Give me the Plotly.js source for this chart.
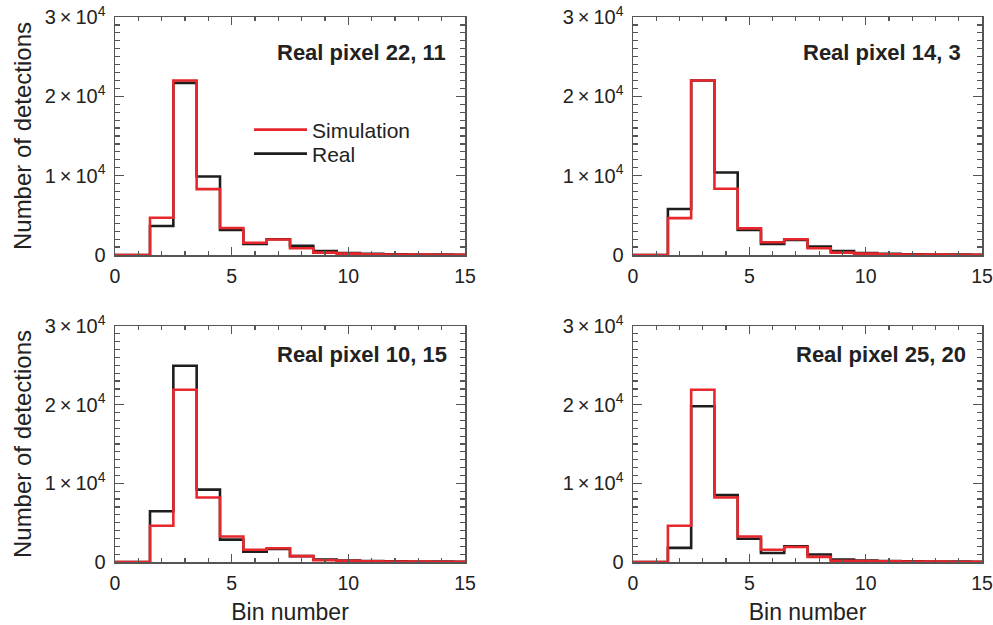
<!DOCTYPE html>
<html>
<head>
<meta charset="utf-8">
<script src="https://cdn.plot.ly/plotly-3.0.1.min.js"></script>
<style>html,body{margin:0;padding:0;background:#fff}#chart{width:993px;height:625px}</style>
</head>
<body>
<div id="chart"></div>
<script>
// Data (bin centres and counts)
const bins = [0,1,2,3,4,5,6,7,8,9,10,11,12,13,14,15];
const sim1  = [0,0,4700,22000,8300,3400,1550,1950,850,300,170,100,70,50,40,30];
const real1 = [0,0,3650,21700,9900,3150,1400,1980,1150,500,250,150,100,70,50,40];
const sim2  = [0,0,4650,22000,8350,3350,1600,1980,850,300,170,100,70,50,40,30];
const real2 = [0,0,5800,22000,10400,3150,1400,1900,1050,500,250,150,100,70,50,40];
const sim3  = [0,0,4600,21900,8200,3250,1550,1750,750,220,150,100,70,50,40,30];
const real3 = [0,0,6450,24950,9200,2850,1300,1650,750,300,200,130,90,60,50,40];
const sim4  = [0,0,4600,21900,8200,3250,1550,1900,650,150,120,90,70,50,40,30];
const real4 = [0,0,1800,19800,8500,2950,1150,2000,950,300,200,130,90,60,50,40];
const panelTitles = ["Real pixel 22, 11","Real pixel 14, 3","Real pixel 10, 15","Real pixel 25, 20"];
const yTickVals = [0,10000,20000,30000];
const yTickText = ["0","1\u2009\u00d7\u200910<sup>4</sup>","2\u2009\u00d7\u200910<sup>4</sup>","3\u2009\u00d7\u200910<sup>4</sup>"];
const xTickVals = [0,5,10,15];
const seriesNames = ["Simulation","Real"];

const RED = '#e8272c', BLACK = '#1e1e1e', AX = '#555555', TXT = '#222222';
const FONT = 'Liberation Sans, Arial, Helvetica, sans-serif';

const sims = [sim1,sim2,sim3,sim4];
const reals = [real1,real2,real3,real4];
const traces = [];
for (let i = 0; i < 4; i++) {
  const sfx = i === 0 ? '' : String(i+1);
  traces.push({x: bins, y: reals[i], type:'scatter', mode:'lines', line:{shape:'hvh', color:BLACK, width:2.6},
    name: seriesNames[1], showlegend: i===0, legend:'legend2', xaxis:'x'+sfx, yaxis:'y'+sfx, hoverinfo:'x+y'});
  traces.push({x: bins, y: sims[i], type:'scatter', mode:'lines', line:{shape:'hvh', color:RED, width:2.6},
    name: seriesNames[0], showlegend: i===0, legend:'legend', xaxis:'x'+sfx, yaxis:'y'+sfx, hoverinfo:'x+y'});
}

const W = 993, H = 625;
const xd = [[115/W, 465/W],[633/W, 982/W]];
const yd = [[1-255/H, 1-17/H],[1-562/H, 1-326/H]];

function xax(col,row){
  return {domain: xd[col], anchor: 'y'+(col+row*2===0?'':(col+row*2+1)), range:[0,15],
    tickmode:'array', tickvals: xTickVals, ticks:'inside', ticklen:8, tickwidth:1.3, tickcolor:AX,
    showline:true, linecolor:AX, linewidth:1.5, mirror:'allticks', showgrid:false, zeroline:false,
    minor:{tickmode:'linear', dtick:1, tick0:0, ticks:'inside', ticklen:4, tickwidth:1.2, tickcolor:AX, showgrid:false},
    tickfont:{family:FONT, size:19.5, color:TXT}, ticklabelstandoff:3, ticklabeloverflow:'allow',
    title: row===1 ? {text:'Bin number', font:{family:FONT, size:23, color:TXT}, standoff:14} : {text:''}};
}
function yax(col,row){
  return {domain: yd[row], anchor: 'x'+(col+row*2===0?'':(col+row*2+1)), range:[0,30000],
    tickmode:'array', tickvals: yTickVals, ticktext: yTickText, ticks:'inside', ticklen:9, tickwidth:1.3, tickcolor:AX,
    showline:true, linecolor:AX, linewidth:1.5, mirror:'allticks', showgrid:false, zeroline:false,
    minor:{tickmode:'linear', dtick:1000, tick0:0, ticks:'inside', ticklen:5, tickwidth:1.2, tickcolor:AX, showgrid:false},
    tickfont:{family:FONT, size:20, color:TXT}, ticklabelstandoff:4, ticklabeloverflow:'allow',
    title: col===0 ? {text:'Number of detections', font:{family:FONT, size:24, color:TXT}, standoff:6} : {text:''}};
}

const legendBase = {xanchor:'left', yanchor:'middle', bgcolor:'rgba(0,0,0,0)',
  font:{family:FONT, size:21, color:TXT}, itemwidth:53, borderwidth:0};

const layout = {
  width: W, height: H, margin:{l:0,r:0,t:0,b:0}, paper_bgcolor:'#fff', plot_bgcolor:'#fff',
  font:{family:FONT, color:TXT},
  xaxis: xax(0,0), yaxis: yax(0,0),
  xaxis2: xax(1,0), yaxis2: yax(1,0),
  xaxis3: xax(0,1), yaxis3: yax(0,1),
  xaxis4: xax(1,1), yaxis4: yax(1,1),
  showlegend: true,
  legend: Object.assign({x:249/W, y:1-130/H}, legendBase),
  legend2: Object.assign({x:249/W, y:1-154/H}, legendBase),
  annotations: [
    {text:'<b>'+panelTitles[0]+'</b>', xref:'paper', yref:'paper', x:448/W, y:1-53/H, xanchor:'right', yanchor:'middle', showarrow:false, font:{family:FONT,size:22,color:TXT}},
    {text:'<b>'+panelTitles[1]+'</b>', xref:'paper', yref:'paper', x:963/W, y:1-53/H, xanchor:'right', yanchor:'middle', showarrow:false, font:{family:FONT,size:22,color:TXT}},
    {text:'<b>'+panelTitles[2]+'</b>', xref:'paper', yref:'paper', x:449/W, y:1-355/H, xanchor:'right', yanchor:'middle', showarrow:false, font:{family:FONT,size:22,color:TXT}},
    {text:'<b>'+panelTitles[3]+'</b>', xref:'paper', yref:'paper', x:968/W, y:1-355/H, xanchor:'right', yanchor:'middle', showarrow:false, font:{family:FONT,size:22,color:TXT}}
  ]
};

Plotly.newPlot('chart', traces, layout, {displayModeBar:false, staticPlot:true});
</script>
</body>
</html>
